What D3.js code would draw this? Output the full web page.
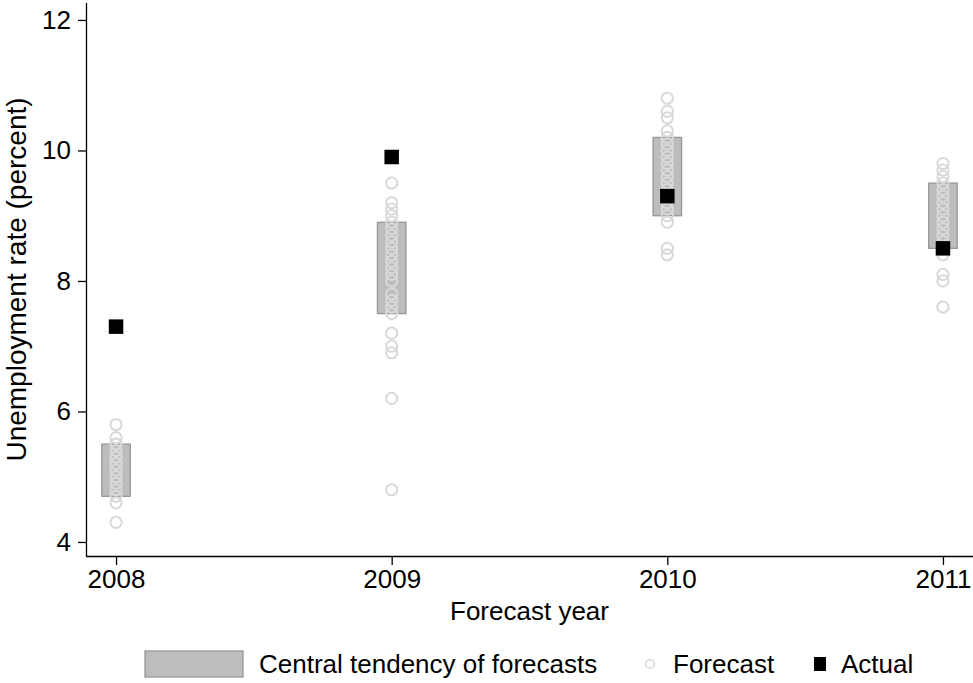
<!DOCTYPE html>
<html><head><meta charset="utf-8">
<script src="https://cdn.jsdelivr.net/npm/d3@7"></script>
<style>body{margin:0;background:#fff}svg{display:block;font-family:"Liberation Sans",Arial,sans-serif}</style>
</head><body>
<svg id="chart" width="973" height="683"></svg>
<script>
const years = [2008, 2009, 2010, 2011];
const ctLow = [4.7, 7.5, 9.0, 8.5];
const ctHigh = [5.5, 8.9, 10.2, 9.5];
const actual = [7.3, 9.9, 9.3, 8.5];
const forecasts2008 = [4.3, 4.6, 4.7, 4.8, 4.9, 5.0, 5.0, 5.1, 5.2, 5.2, 5.3, 5.3, 5.4, 5.5, 5.5, 5.6, 5.8];
const forecasts2009 = [4.8, 6.2, 6.9, 7.0, 7.2, 7.5, 7.6, 7.7, 7.8, 8.0, 8.1, 8.2, 8.3, 8.4, 8.5, 8.6, 8.7, 8.8, 8.9, 9.0, 9.1, 9.2, 9.5];
const forecasts2010 = [8.4, 8.5, 8.9, 9.0, 9.1, 9.2, 9.3, 9.4, 9.5, 9.6, 9.7, 9.8, 9.9, 10.0, 10.1, 10.2, 10.3, 10.5, 10.6, 10.8];
const forecasts2011 = [7.6, 8.0, 8.1, 8.4, 8.5, 8.6, 8.7, 8.8, 8.9, 9.0, 9.1, 9.2, 9.3, 9.4, 9.5, 9.6, 9.7, 9.8];
const forecasts = [forecasts2008, forecasts2009, forecasts2010, forecasts2011];
const yTicks = [4, 6, 8, 10, 12];
const xTitle = "Forecast year";
const yTitle = "Unemployment rate (percent)";
const legendLabels = ["Central tendency of forecasts", "Forecast", "Actual"];

(function () {
const svg = d3.select("#chart");
const mL = 86, mR = 973, mT = 3, mB = 556;
const x = d3.scaleLinear().domain([2007.891, 2011.109]).range([mL, mR]);
const y = d3.scaleLinear().domain([3.785, 12.26]).range([mB, mT]);

const FS = 26;
const yAxis = svg.append("g").attr("transform", `translate(${mL},0)`)
  .call(d3.axisLeft(y).tickValues(yTicks).tickSize(8).tickPadding(7).tickFormat(d3.format("d")));
const xAxis = svg.append("g").attr("transform", `translate(0,${mB})`)
  .call(d3.axisBottom(x).tickValues(years).tickSize(9).tickPadding(5).tickFormat(d3.format("d")));
[yAxis, xAxis].forEach(a => {
  a.select(".domain").attr("stroke", "#000").attr("stroke-width", 1.3);
  a.selectAll(".tick line").attr("stroke", "#000").attr("stroke-width", 1.3);
  a.selectAll(".tick text").attr("font-size", FS).attr("font-family", "Liberation Sans, Arial, sans-serif").attr("fill", "#000");
});
yAxis.select(".domain").attr("d", `M0.5,${mT}V${mB}`);
xAxis.select(".domain").attr("d", `M${mL},0.5H${mR}`);

svg.append("text").attr("x", (mL + mR) / 2).attr("y", 620).attr("text-anchor", "middle")
  .attr("font-size", FS).text(xTitle);
svg.append("text").attr("transform", `translate(26,${(mT + mB) / 2}) rotate(-90)`)
  .attr("text-anchor", "middle").attr("font-size", 28).text(yTitle);

const bw = 28.5;
const plot = svg.append("g");
plot.selectAll("rect.ct").data(years).join("rect").attr("class", "ct")
  .attr("x", (d) => x(d) - bw / 2).attr("width", bw)
  .attr("y", (d, i) => y(ctHigh[i])).attr("height", (d, i) => y(ctLow[i]) - y(ctHigh[i]))
  .attr("fill", "#bdbdbd").attr("stroke", "#979797").attr("stroke-width", 1.3);

const pts = [];
forecasts.forEach((arr, i) => arr.forEach(v => pts.push({ yr: years[i], v })));
plot.selectAll("circle.fc").data(pts).join("circle").attr("class", "fc")
  .attr("cx", d => x(d.yr)).attr("cy", d => y(d.v)).attr("r", 5.6)
  .attr("fill", "none").attr("stroke", "#d9d9d9").attr("stroke-width", 2);

const sq = 14.5;
plot.selectAll("rect.act").data(years).join("rect").attr("class", "act")
  .attr("x", d => x(d) - sq / 2).attr("y", (d, i) => y(actual[i]) - sq / 2)
  .attr("width", sq).attr("height", sq).attr("fill", "#000");

const lg = svg.append("g");
const ly = 664;
lg.append("rect").attr("x", 145).attr("y", 651).attr("width", 98).attr("height", 26)
  .attr("fill", "#bdbdbd").attr("stroke", "#979797").attr("stroke-width", 1.3);
lg.append("text").attr("x", 259).attr("y", ly).attr("dy", "0.35em").attr("font-size", FS).text(legendLabels[0]);
lg.append("circle").attr("cx", 650).attr("cy", ly).attr("r", 4.3).attr("fill", "none").attr("stroke", "#d9d9d9").attr("stroke-width", 1.6);
lg.append("text").attr("x", 673).attr("y", ly).attr("dy", "0.35em").attr("font-size", FS).text(legendLabels[1]);
lg.append("rect").attr("x", 814).attr("y", ly - 7).attr("width", 12).attr("height", 14).attr("fill", "#000");
lg.append("text").attr("x", 841).attr("y", ly).attr("dy", "0.35em").attr("font-size", FS).text(legendLabels[2]);
})();
</script>
</body></html>
